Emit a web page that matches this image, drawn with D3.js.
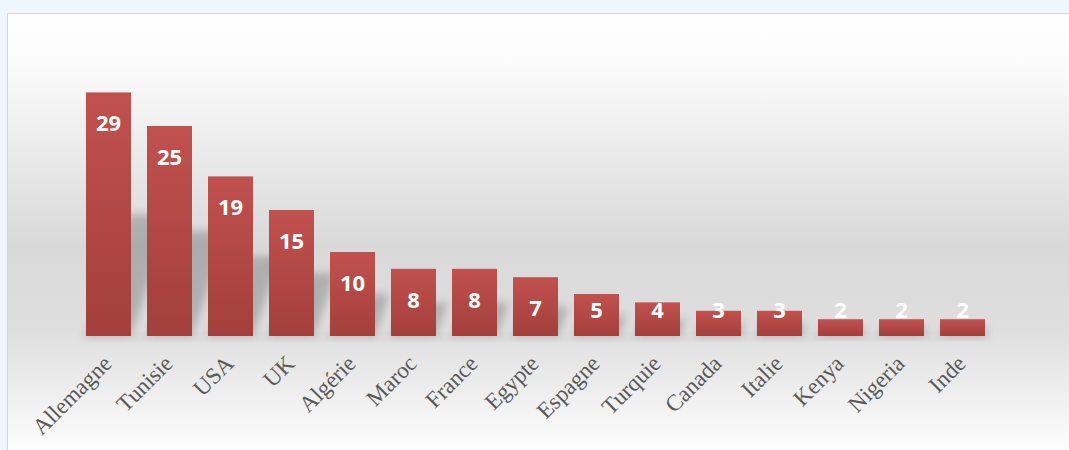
<!DOCTYPE html>
<html>
<head>
<meta charset="utf-8">
<script src="https://cdn.jsdelivr.net/npm/d3@7"></script>
<style>
  html, body { margin: 0; padding: 0; background: #eff6fd; overflow: hidden; }
  svg { display: block; }
</style>
</head>
<body>
<div id="root"></div>
<script>
const countries = ["Allemagne", "Tunisie", "USA", "UK", "Algérie", "Maroc", "France", "Egypte",
                   "Espagne", "Turquie", "Canada", "Italie", "Kenya", "Nigeria", "Inde"];
const counts = [29, 25, 19, 15, 10, 8, 8, 7, 5, 4, 3, 3, 2, 2, 2];
const yMax = 35;

const outerWidth = 1069;
const outerHeight = 450;
const margin = { top: 42, left: 55, right: 53, bottom: 114 };
const baseY = outerHeight - margin.bottom;

const data = countries.map((c, i) => ({ name: c, value: counts[i] }));

const svg = d3.select("#root")
              .append("svg")
              .attr("width", outerWidth)
              .attr("height", outerHeight);

const defs = svg.append("defs");

// panel background
let bg = defs.append("linearGradient")
             .attr("id", "bg")
             .attr("gradientUnits", "userSpaceOnUse")
             .attr("x1", 0).attr("x2", 0)
             .attr("y1", 14).attr("y2", 450);
[[0, "#ffffff"], [0.12, "#fbfbfb"], [0.3, "#ececec"], [0.53, "#d9d9d9"],
 [0.72, "#dedede"], [0.84, "#ebebeb"], [1, "#fdfdfd"]].forEach(s => {
    bg.append("stop").attr("offset", s[0]).attr("stop-color", s[1]);
});

let barGrad = defs.append("linearGradient")
                  .attr("id", "bar")
                  .attr("x1", 0).attr("x2", 0).attr("y1", 0).attr("y2", 1);
barGrad.append("stop").attr("offset", 0).attr("stop-color", "#c1514e");
barGrad.append("stop").attr("offset", 1).attr("stop-color", "#a33f3c");

defs.append("filter")
    .attr("id", "blur")
    .attr("x", "-50%").attr("y", "-50%").attr("width", "200%").attr("height", "200%")
    .append("feGaussianBlur").attr("stdDeviation", 4);

svg.append("rect")
   .attr("x", 7.5).attr("y", 13.5)
   .attr("width", outerWidth + 10).attr("height", outerHeight + 10)
   .attr("fill", "url(#bg)")
   .attr("stroke", "#d6d6d6")
   .attr("stroke-width", 1);

const x = d3.scaleBand()
            .domain(countries)
            .range([margin.left, outerWidth - margin.right])
            .paddingInner(0.262)
            .paddingOuter(0.508);

const y = d3.scaleLinear()
            .domain([0, yMax])
            .range([baseY, margin.top]);

const chart = svg.append("g");

// soft perspective shadows behind the bars
chart.selectAll(".shadow")
     .data(data)
     .enter().append("path")
     .attr("class", "shadow")
     .attr("d", d => {
         let h = (baseY - y(d.value)) * 0.5;
         let dx = h * 0.35;
         let x0 = x(d.name), x1 = x0 + x.bandwidth();
         return `M${x0},${baseY} L${x1},${baseY} L${x1 + dx},${baseY - h} L${x0 + dx},${baseY - h} Z`;
     })
     .attr("fill", "#000")
     .attr("opacity", 0.2)
     .attr("filter", "url(#blur)");

chart.append("rect")
     .attr("x", x(countries[0]) - 4)
     .attr("y", baseY - 2)
     .attr("width", x(countries[countries.length - 1]) + x.bandwidth() - x(countries[0]) + 8)
     .attr("height", 5)
     .attr("fill", "#000")
     .attr("opacity", 0.06)
     .attr("filter", "url(#blur)");

chart.selectAll(".bar")
     .data(data)
     .enter().append("rect")
     .attr("class", "bar")
     .attr("x", d => x(d.name))
     .attr("y", d => y(d.value))
     .attr("width", x.bandwidth())
     .attr("height", d => baseY - y(d.value))
     .attr("fill", "url(#bar)");

chart.selectAll(".value")
     .data(data)
     .enter().append("text")
     .attr("class", "value")
     .attr("x", d => x(d.name) + x.bandwidth() / 2)
     .attr("y", d => Math.min(y(d.value) + 31, baseY - 26))
     .attr("dy", "0.36em")
     .attr("text-anchor", "middle")
     .attr("fill", "#ffffff")
     .style("font-family", "'Open Sans', sans-serif")
     .style("font-weight", 700)
     .style("font-size", "22px")
     .text(d => d.value);

let xAxis = d3.axisBottom(x).tickSize(0).tickPadding(0);
let axisG = chart.append("g")
                 .attr("class", "x axis")
                 .attr("transform", `translate(0, ${baseY})`)
                 .call(xAxis);
axisG.select(".domain").remove();
axisG.selectAll("text")
     .attr("x", 0).attr("y", 0).attr("dy", 0)
     .attr("transform", `translate(${x.bandwidth() / 2 - 18}, 29) rotate(-45)`)
     .style("text-anchor", "end")
     .style("font-family", "'Liberation Serif', 'Times New Roman', serif")
     .style("font-size", "23px")
     .attr("fill", "#595959");
</script>
</body>
</html>
